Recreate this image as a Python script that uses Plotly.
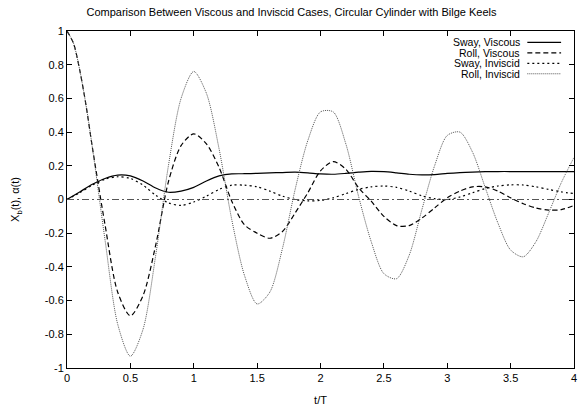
import plotly.graph_objects as go

# ---------------- data ----------------
t_sway = [round(0.1 * i, 1) for i in range(41)]
t_roll = [0.0, 0.05, 0.1, 0.15, 0.2] + [round(0.1 * i, 1) for i in range(3, 41)]

sway_viscous = [0.0, 0.045, 0.09, 0.125, 0.145, 0.14, 0.11, 0.068, 0.043, 0.05,
                0.072, 0.11, 0.14, 0.152, 0.153, 0.155, 0.158, 0.16, 0.162, 0.158,
                0.152, 0.15, 0.155, 0.162, 0.167, 0.165, 0.158, 0.15, 0.146, 0.148,
                0.155, 0.16, 0.163, 0.165, 0.166, 0.166, 0.166, 0.166, 0.166, 0.166,
                0.166]

roll_viscous = [1.0, 0.93, 0.77, 0.56, 0.31, -0.15, -0.55, -0.69, -0.57, -0.27, 0.105, 0.32,
                0.39, 0.33, 0.19, -0.01, -0.15, -0.2, -0.23, -0.19, -0.08, 0.04,
                0.17, 0.225, 0.18, 0.07, -0.01, -0.1, -0.155, -0.155, -0.11, -0.05,
                0.01, 0.05, 0.075, 0.075, 0.05, 0.01, -0.025, -0.05, -0.063, -0.06,
                -0.035]

sway_inviscid = [0.0, 0.04, 0.085, 0.12, 0.135, 0.125, 0.085, 0.025, -0.02, -0.035,
                 -0.015, 0.02, 0.06, 0.085, 0.085, 0.075, 0.05, 0.02, 0.0, -0.008,
                 -0.005, 0.01, 0.035, 0.06, 0.075, 0.08, 0.072, 0.05, 0.022, 0.005,
                 0.0, 0.015, 0.04, 0.065, 0.08, 0.087, 0.086, 0.075, 0.06, 0.045,
                 0.035]

roll_inviscid = [1.0, 0.93, 0.77, 0.56, 0.31, -0.24, -0.74, -0.93, -0.77, -0.33, 0.2, 0.6,
                 0.76, 0.63, 0.3, -0.12, -0.45, -0.62, -0.55, -0.29, 0.06, 0.35,
                 0.52, 0.52, 0.33, 0.02, -0.25, -0.44, -0.47, -0.33, -0.06, 0.2,
                 0.38, 0.4, 0.28, 0.07, -0.14, -0.3, -0.34, -0.25, -0.08, 0.1,
                 0.25]

series_names = ["Sway, Viscous", "Roll, Viscous", "Sway, Inviscid", "Roll, Inviscid"]

x_ticks = [0, 0.5, 1, 1.5, 2, 2.5, 3, 3.5, 4]
x_ticktext = ["0", "0.5", "1", "1.5", "2", "2.5", "3", "3.5", "4"]
y_ticks = [1, 0.8, 0.6, 0.4, 0.2, 0, -0.2, -0.4, -0.6, -0.8, -1]
y_ticktext = ["1", "0.8", "0.6", "0.4", "0.2", "0", "-0.2", "-0.4", "-0.6", "-0.8", "-1"]

# ---------------- styles ----------------
FONT = "Liberation Sans, Arial, Helvetica, sans-serif"
styles = [
    dict(color="black", width=1.2, dash="solid"),
    dict(color="black", width=1.2, dash="5px,3px"),
    dict(color="black", width=1.2, dash="2px,3px"),
    dict(color="#555555", width=1.0, dash="1px,1px"),
]
all_t = [t_sway, t_roll, t_sway, t_roll]
all_y = [sway_viscous, roll_viscous, sway_inviscid, roll_inviscid]

W, H = 583, 411
ML, MR, MT, MB = 66.5, 6, 30.5, 37

fig = go.Figure()
for name, ts, ys, st in zip(series_names, all_t, all_y, styles):
    fig.add_trace(go.Scatter(x=ts, y=ys, mode="lines", name=name,
                             line=dict(shape="spline", smoothing=0.8, **st),
                             showlegend=False))

# zero reference line (dash-dot)
fig.add_hline(y=0, line=dict(color="#555555", width=1.2, dash="7px,3px,2px,3px"))

# gnuplot-style legend: right-aligned text, sample to the right
plot_w = W - ML - MR
plot_h = H - MT - MB
def px_x(px):
    return (px - ML) / plot_w
def px_y(py):
    return (H - MB - py) / plot_h

rows = [42, 52.7, 63.4, 74.1]
for name, st, py in zip(series_names, styles, rows):
    fig.add_annotation(x=px_x(525), y=px_y(py), xref="paper", yref="paper",
                       text=name, showarrow=False, xanchor="right", yanchor="middle",
                       font=dict(family=FONT, size=10.5, color="black"))
    fig.add_shape(type="line", xref="paper", yref="paper",
                  x0=px_x(530), x1=px_x(564), y0=px_y(py), y1=px_y(py),
                  line=dict(color=st["color"], width=st["width"], dash=st["dash"]))

axis_common = dict(showgrid=False, zeroline=False, showline=True, linecolor="black",
                   linewidth=1, mirror="ticks", ticks="inside", ticklen=5,
                   tickcolor="black", tickwidth=1,
                   tickfont=dict(family=FONT, size=11, color="black"))

fig.update_xaxes(range=[0, 4], tickvals=x_ticks, ticktext=x_ticktext,
                 title=dict(text="t/T", font=dict(family=FONT, size=11, color="black"),
                            standoff=13), **axis_common)
fig.update_yaxes(range=[-1, 1], tickvals=y_ticks, ticktext=y_ticktext,
                 title=dict(text="X<sub>b</sub>(t), α(t)",
                            font=dict(family=FONT, size=11, color="black"), standoff=22),
                 **axis_common)

fig.update_layout(
    width=W, height=H,
    margin=dict(l=ML, r=MR, t=MT, b=MB),
    paper_bgcolor="white", plot_bgcolor="white",
    title=dict(text="Comparison Between Viscous and Inviscid Cases, Circular Cylinder with Bilge Keels",
               x=0.5, xanchor="center", y=1 - 12 / H, yanchor="middle",
               font=dict(family=FONT, size=11, color="black")),
    font=dict(family=FONT, size=11, color="black"),
)

fig.write_html("out.html")
